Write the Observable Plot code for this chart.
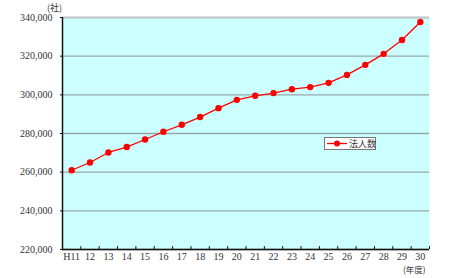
<!DOCTYPE html>
<html>
<head>
<meta charset="utf-8">
<script src="https://cdn.jsdelivr.net/npm/d3@7"></script>
<script src="https://cdn.jsdelivr.net/npm/@observablehq/plot@0.6"></script>
<style>
  body { margin: 0; background: #fff; }
  #wrap { position: relative; width: 472px; height: 278px; font-family: "Liberation Serif", "DejaVu Serif", serif; color: #333; }
  #wrap svg text { font-family: "Liberation Serif", "DejaVu Serif", serif !important; }
  .jp { font-family: "Noto Sans CJK JP", sans-serif; white-space: nowrap; }
  #ylab { position: absolute; left: 47px; top: 2px; font-size: 9px; line-height: 11px; }
  #xlab { position: absolute; left: 403px; top: 264px; font-size: 8.5px; line-height: 10px; }
  #legend { position: absolute; left: 324px; top: 137px; width: 50px; height: 11px; border: 1px solid #777; background: #fff; font-size: 9px; line-height: 11px; white-space: nowrap; }
  #legend svg { position: absolute; left: 2px; top: 0; }
  #legend span { position: absolute; left: 24px; top: 0; line-height: 11px; }
</style>
</head>
<body>
<div id="wrap"></div>
<script>
const years = ["H11","12","13","14","15","16","17","18","19","20","21","22","23","24","25","26","27","28","29","30"];
const corporations = [261000, 265000, 270200, 273000, 276900, 280900, 284500, 288500, 293100, 297400, 299500, 300900, 302900, 304000, 306200, 310300, 315500, 321200, 328400, 337700];
const yTicks = [220000, 240000, 260000, 280000, 300000, 320000, 340000];
const seriesName = "法人数";
const yUnit = "(社)";
const xUnit = "(年度)";

const data = years.map((y, i) => ({pos: i + 0.5, year: y, value: corporations[i]}));
const bounds = d3.range(0, years.length + 1);

const chart = Plot.plot({
  width: 472,
  height: 278,
  marginLeft: 62,
  marginRight: 43,
  marginTop: 17,
  marginBottom: 29,
  style: {fontFamily: "'Liberation Serif', 'DejaVu Serif', serif", fontSize: "10px", color: "#333", background: "transparent"},
  x: {type: "linear", domain: [0, years.length]},
  y: {domain: [220000, 340000]},
  marks: [
    Plot.frame({fill: "#ccffff", stroke: null}),
    Plot.gridY(yTicks, {stroke: "#95a8a8", strokeOpacity: 1, strokeWidth: 1.3}),
    Plot.ruleY([yTicks[yTicks.length - 1]], {stroke: "#c4c4c4", strokeWidth: 1.3}),
    Plot.ruleY([yTicks[0]], {stroke: "#111", strokeWidth: 1.5}),
    Plot.ruleX([0], {stroke: "#111", strokeWidth: 1.5}),
    Plot.ruleX(bounds, {y1: yTicks[0], y2: yTicks[0] + 1500, stroke: "#111", strokeWidth: 1}),
    Plot.axisY({ticks: yTicks, tickFormat: d3.format(","), tickSize: 2, tickPadding: 8, label: null, stroke: "#111"}),
    Plot.axisX({ticks: data.map(d => d.pos), tickFormat: (d) => years[Math.floor(d)], tickSize: 0, tickPadding: 3, label: null}),
    Plot.line(data, {x: "pos", y: "value", stroke: "#ff0000", strokeWidth: 1.3}),
    Plot.dot(data, {x: "pos", y: "value", r: 3.2, fill: "#ff0000", stroke: null})
  ]
});

const wrap = document.getElementById("wrap");
wrap.appendChild(chart);
chart.style.position = "absolute";
chart.style.left = "0";
chart.style.top = "0";

const yl = document.createElement("div");
yl.id = "ylab"; yl.className = "jp"; yl.textContent = yUnit;
wrap.appendChild(yl);
const xl = document.createElement("div");
xl.id = "xlab"; xl.className = "jp"; xl.textContent = xUnit;
wrap.appendChild(xl);

const lg = document.createElement("div");
lg.id = "legend";
lg.innerHTML = `<svg width="20" height="11"><line x1="0" x2="20" y1="5.5" y2="5.5" stroke="#ff0000" stroke-width="1.3"/><circle cx="10" cy="5.5" r="3" fill="#ff0000"/></svg><span class="jp">${seriesName}</span>`;
wrap.appendChild(lg);
</script>
</body>
</html>
